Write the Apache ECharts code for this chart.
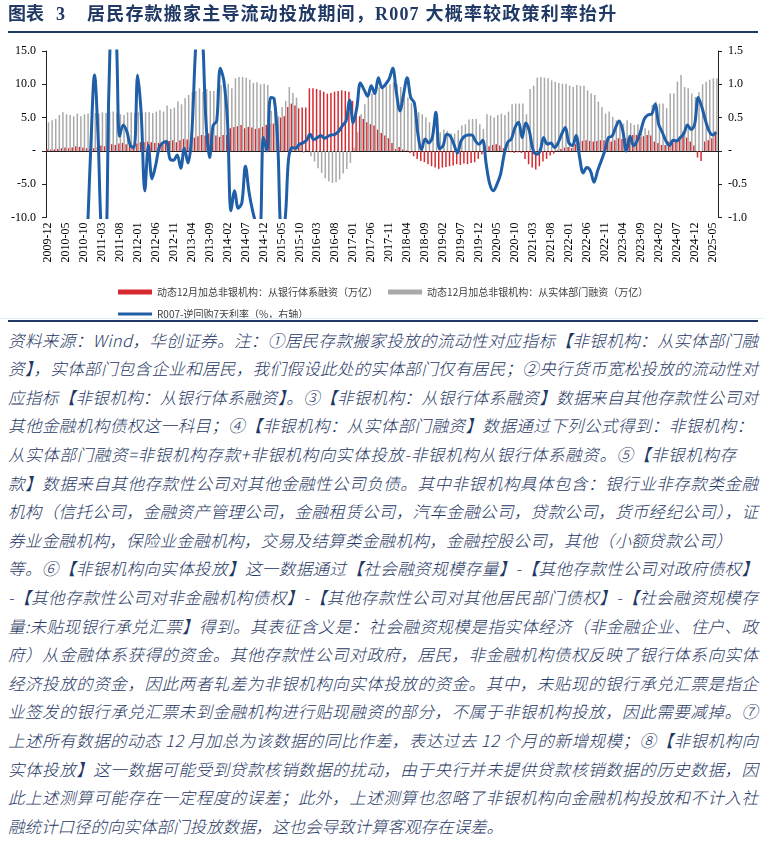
<!DOCTYPE html>
<html><head><meta charset="utf-8">
<script src="https://cdn.jsdelivr.net/npm/echarts@6/dist/echarts.min.js"></script>
<style>
html,body{margin:0;padding:0;background:#fff;width:764px;height:854px;overflow:hidden;}
#chart{position:absolute;left:0;top:0;width:764px;height:318px;}
.tt{position:absolute;top:3px;font-family:"Liberation Serif","Noto Sans CJK SC";font-weight:bold;font-size:18px;line-height:22px;color:#1f3864;white-space:nowrap;}
#tline{position:absolute;left:8px;top:31px;width:750px;height:2px;background:#1f3864;}
#cline{position:absolute;left:0;top:318px;width:764px;height:1px;background:#dff2f7;}
#nline{position:absolute;left:8px;top:320px;width:750px;height:2px;background:#1f3864;}
#notes{position:absolute;left:8px;top:325.7px;width:760px;font-family:"Noto Sans CJK SC";font-style:italic;font-weight:300;font-size:16.5px;line-height:28.6px;color:#1f3864;}
#notes div{white-space:nowrap;height:28.6px;}
</style></head>
<body>
<div id="chart"></div>
<div class="tt" id="t1" style="left:8px;">图表</div>
<div class="tt" id="t2" style="left:56px;">3</div>
<div class="tt" id="t3" style="left:87px;"></div>
<div id="tline"></div>
<div id="cline"></div>
<div id="nline"></div>
<div id="notes"></div>
<script>
const titleText = '居民存款搬家主导流动投放期间，R007 大概率较政策利率抬升';

const startYear = 2009, startMonth = 12, monthCount = 187; // 2009-12 .. 2025-06
const categories = [];
for (let k = 0; k < monthCount; k++) {
  const m0 = startMonth - 1 + k;
  const y = startYear + Math.floor(m0 / 12);
  const m = m0 % 12 + 1;
  categories.push(y + '-' + (m < 10 ? '0' + m : m));
}

const seriesNames = [
  '动态12月加总非银机构：从银行体系融资（万亿）',
  '动态12月加总非银机构：从实体部门融资（万亿）',
  'R007-逆回购7天利率（%，右轴）'
];

// 动态12月加总非银机构：从银行体系融资（万亿）
const bankFinancing = [
  0.3,0.2,0.2,0.3,0.4,0.5,0.4,0.5,0.7,0.6,
  0.5,0.4,0.3,0.4,0.6,0.8,0.7,0.6,1.0,0.9,
  1.1,1.2,1.0,0.8,0.9,1.1,1.3,1.3,1.4,1.3,
  1.2,1.2,1.3,1.4,1.5,1.6,1.3,1.6,1.8,1.7,
  1.9,2.0,2.2,2.4,2.3,2.6,2.6,2.3,2.1,2.4,
  2.4,3.4,3.6,3.7,3.9,3.4,3.6,3.5,3.3,3.4,
  3.6,3.9,4.1,4.1,4.0,5.0,5.2,6.6,7.1,6.8,
  6.4,6.5,6.5,9.4,9.4,9.3,9.1,8.9,8.6,8.7,
  8.9,9.0,9.1,9.0,8.9,7.5,6.2,5.2,4.8,4.3,
  4.0,3.8,3.2,2.7,2.3,1.9,1.2,0.3,0.6,0.2,
  0.1,-0.3,-0.8,-1.2,-1.5,-1.7,-2.0,-2.3,-2.5,-2.7,
  -2.5,-2.4,-2.3,-2.2,-2.0,-2.1,-1.9,-2.0,-1.8,-1.7,
  -1.2,-0.5,0.2,0.7,0.9,1.0,0.8,0.4,-0.1,-0.2,
  -0.3,-0.2,-0.3,-1.2,-2.0,-2.5,-2.8,-2.3,-1.6,-1.2,
  -0.7,-0.4,0.1,0.3,0.5,0.6,0.4,1.0,1.3,1.5,
  1.6,1.5,1.4,1.5,1.6,1.6,1.5,1.4,1.6,1.9,
  1.8,1.9,2.0,2.4,2.4,2.1,2.2,2.4,2.3,1.4,
  1.2,0.9,0.9,1.4,1.6,1.6,1.8,2.9,2.0,1.4,
  0.8,-1.0,-1.5,1.4,1.6,1.9,2.9
];

// 动态12月加总非银机构：从实体部门融资（万亿）
const realSectorFinancing = [
  4.3,4.6,4.8,5.4,5.8,5.5,5.4,5.2,5.6,5.2,
  5.5,5.6,5.7,5.7,5.6,5.8,5.7,5.9,5.9,5.7,
  5.5,5.4,5.8,5.8,5.7,5.8,5.7,5.8,5.8,5.7,
  5.9,6.1,5.9,6.8,6.3,6.5,7.4,7.0,7.9,8.4,
  8.8,9.0,9.4,8.9,9.3,9.0,9.0,9.3,9.9,9.9,
  10.1,9.4,10.9,11.1,11.1,11.0,10.7,10.2,10.3,10.0,
  10.1,9.9,6.0,6.5,5.2,6.6,7.5,9.6,8.7,8.0,
  1.0,-0.3,0.2,-0.8,-1.6,-2.6,-3.3,-4.1,-4.6,-4.8,
  -4.7,-4.3,-3.4,-2.7,-1.8,0.5,2.8,5.5,7.0,8.0,
  8.6,9.2,9.6,9.5,9.8,10.0,10.3,10.0,9.6,8.8,
  8.0,7.2,6.8,5.8,5.5,5.0,4.3,3.6,3.0,2.8,
  3.2,3.0,2.6,2.6,3.1,3.8,4.0,4.7,4.8,4.8,
  4.0,3.3,5.5,5.3,5.0,5.4,5.6,5.4,5.9,7.0,
  7.1,7.1,7.1,5.5,9.3,9.8,11.0,11.1,11.0,10.9,
  10.6,10.4,10.2,10.1,10.1,9.8,9.6,9.9,9.8,9.8,
  9.1,8.6,8.4,7.4,6.6,5.6,5.9,5.1,4.6,4.4,
  4.1,4.6,4.2,3.9,4.0,3.8,3.4,3.1,6.9,7.4,
  7.1,7.1,6.4,8.6,8.6,10.4,11.4,9.6,9.4,8.6,
  8.1,8.8,10.0,10.4,10.7,10.9,10.9
];

// R007-逆回购7天利率（%，右轴）
const r007Spread = [
  null,null,null,null,null,null,null,null,null,null,
  null,-1.3,0.1,1.14,0.2,-1.3,-1.4,0.9,2.2,1.8,
  0.22,0.39,0.29,0.08,0.05,1.14,0.55,-0.6,0.08,-0.42,
  -0.22,0.05,0.12,0.14,-0.12,-0.14,-0.06,-0.26,0.04,-0.18,
  0.2,1.4,2.3,1.8,0.45,-0.1,0.38,0.45,1.24,1.05,
  0.45,-0.9,-0.6,-0.86,-0.78,-0.23,-0.62,-0.9,-1.1,-1.2,
  0.2,0.0,0.8,0.78,0.1,-1.15,-1.05,-0.12,0.05,0.04,
  0.1,0.12,0.16,0.25,0.17,0.2,0.23,0.19,0.22,0.24,
  0.25,0.3,0.38,0.45,0.76,0.42,0.65,1.02,0.92,0.82,
  0.98,0.86,1.1,0.95,1.0,1.08,1.24,0.88,0.6,0.85,
  1.1,0.8,0.72,0.25,0.02,0.18,0.12,0.2,0.58,0.03,
  0.08,0.25,0.22,0.1,-0.03,0.15,0.22,0.24,0.24,0.15,
  0.1,0.16,-0.2,-0.5,-0.6,-0.5,-0.35,-0.05,0.13,0.18,
  0.35,0.43,0.2,0.42,0.3,0.02,-0.05,0.0,0.2,0.1,
  0.12,0.05,0.12,0.25,0.35,0.12,0.08,0.23,-0.1,-0.33,
  -0.25,-0.3,-0.47,-0.3,-0.15,0.0,0.2,0.22,0.35,0.45,
  0.3,0.0,0.22,0.08,0.15,0.3,0.48,0.54,0.55,0.7,
  0.4,0.28,0.15,0.08,0.16,0.15,0.2,0.26,0.39,0.32,
  0.4,0.8,0.66,0.46,0.3,0.24,0.28
];

const leftTicks = { min: -10, max: 15, interval: 5 };
const rightTicks = { min: -1.0, max: 1.5, interval: 0.5 };

const noteLines = [
  '资料来源：Wind，华创证券。注：①居民存款搬家投放的流动性对应指标【非银机构：从实体部门融',
  '资】，实体部门包含企业和居民，我们假设此处的实体部门仅有居民；②央行货币宽松投放的流动性对',
  '应指标【非银机构：从银行体系融资】。③【非银机构：从银行体系融资】数据来自其他存款性公司对',
  '其他金融机构债权这一科目；④【非银机构：从实体部门融资】数据通过下列公式得到：非银机构：',
  '从实体部门融资=非银机构存款+非银机构向实体投放-非银机构从银行体系融资。⑤【非银机构存',
  '款】数据来自其他存款性公司对其他金融性公司负债。其中非银机构具体包含：银行业非存款类金融',
  '机构（信托公司，金融资产管理公司，金融租赁公司，汽车金融公司，贷款公司，货币经纪公司），证',
  '券业金融机构，保险业金融机构，交易及结算类金融机构，金融控股公司，其他（小额贷款公司）',
  '等。⑥【非银机构向实体投放】这一数据通过【社会融资规模存量】-【其他存款性公司对政府债权】',
  '-【其他存款性公司对非金融机构债权】-【其他存款性公司对其他居民部门债权】-【社会融资规模存',
  '量:未贴现银行承兑汇票】得到。其表征含义是：社会融资规模是指实体经济（非金融企业、住户、政',
  '府）从金融体系获得的资金。其他存款性公司对政府，居民，非金融机构债权反映了银行体系向实体',
  '经济投放的资金，因此两者轧差为非银机构向实体投放的资金。其中，未贴现的银行承兑汇票是指企',
  '业签发的银行承兑汇票未到金融机构进行贴现融资的部分，不属于非银机构投放，因此需要减掉。⑦',
  '上述所有数据的动态 12 月加总为该数据的同比作差，表达过去 12 个月的新增规模；⑧【非银机构向',
  '实体投放】这一数据可能受到贷款核销数据的扰动，由于央行并未提供贷款核销数据的历史数据，因',
  '此上述测算可能存在一定程度的误差；此外，上述测算也忽略了非银机构向金融机构投放和不计入社',
  '融统计口径的向实体部门投放数据，这也会导致计算客观存在误差。'
];
const noteWidths = [750,750,750,745,728,750,750,724,750,750,750,750,750,750,750,750,750,0];

document.getElementById('t3').textContent = titleText;
document.getElementById('t3').style.letterSpacing = '1.2px';

const notes = document.getElementById('notes');
noteLines.forEach((t, k) => {
  const d = document.createElement('div');
  const s = document.createElement('span');
  s.textContent = t;
  d.appendChild(s);
  notes.appendChild(d);
  if (noteWidths[k]) {
    const w = s.getBoundingClientRect().width;
    const n = Array.from(t).length;
    s.style.letterSpacing = ((noteWidths[k] - w) / (n - 1)) + 'px';
  }
});

const axisFont = { fontFamily: 'Liberation Serif', fontSize: 12, color: '#000' };
const fmt = (v, d) => Math.abs(v) < 1e-9 ? '-' : v.toFixed(d);

const chart = echarts.init(document.getElementById('chart'), null, { renderer: 'canvas' });
chart.setOption({
  animation: false,
  backgroundColor: 'transparent',
  grid: { left: 46, right: 46, top: 51, height: 166.5 },
  legend: {
    data: [
      { name: seriesNames[0], icon: 'rect' },
      { name: seriesNames[1], icon: 'rect' },
      { name: seriesNames[2], icon: 'path://M0,0H100V9H0Z' }
    ],
    left: 113, top: 281, width: 560, orient: 'horizontal',
    itemWidth: 34, itemHeight: 5, itemGap: 10, symbolKeepAspect: true,
    textStyle: { fontFamily: 'Noto Sans CJK SC', fontSize: 10, lineHeight: 12, color: '#404040' }
  },
  xAxis: [
    { type: 'category', data: categories, position: 'bottom',
      axisLine: { show: false, onZero: false }, axisTick: { show: false },
      axisLabel: Object.assign({ rotate: 90, interval: 4, margin: 5 }, axisFont) },
    { type: 'category', data: categories,
      axisLine: { show: true, onZero: true, onZeroAxisIndex: 0, lineStyle: { color: '#222', width: 1 } },
      axisTick: { show: false }, axisLabel: { show: false } }
  ],
  yAxis: [
    { type: 'value', min: leftTicks.min, max: leftTicks.max, interval: leftTicks.interval,
      position: 'left', splitLine: { show: false },
      axisLine: { show: true, lineStyle: { color: '#222' } },
      axisTick: { show: true, length: 4, lineStyle: { color: '#222' } },
      axisLabel: Object.assign({ margin: 10, formatter: v => fmt(v, 1) }, axisFont) },
    { type: 'value', min: rightTicks.min, max: rightTicks.max, interval: rightTicks.interval,
      position: 'right', splitLine: { show: false },
      axisLine: { show: true, lineStyle: { color: '#222' } },
      axisTick: { show: true, length: 4, lineStyle: { color: '#222' } },
      axisLabel: Object.assign({ margin: 10, formatter: v => fmt(v, 1) }, axisFont) }
  ],
  series: [
    { name: seriesNames[0], type: 'bar', data: bankFinancing, barWidth: 1.5, barGap: '0%',
      itemStyle: { color: '#d62a30' } },
    { name: seriesNames[1], type: 'bar', data: realSectorFinancing, barWidth: 1.5,
      itemStyle: { color: '#a9a9a9' } },
    { name: seriesNames[2], type: 'line', yAxisIndex: 1, data: r007Spread, smooth: 0.35,
      symbol: 'none', connectNulls: false, clip: true, z: 10,
      lineStyle: { color: '#1f5fa8', width: 3 }, itemStyle: { color: '#1f5fa8' } }
  ]
});
</script>
</body></html>
